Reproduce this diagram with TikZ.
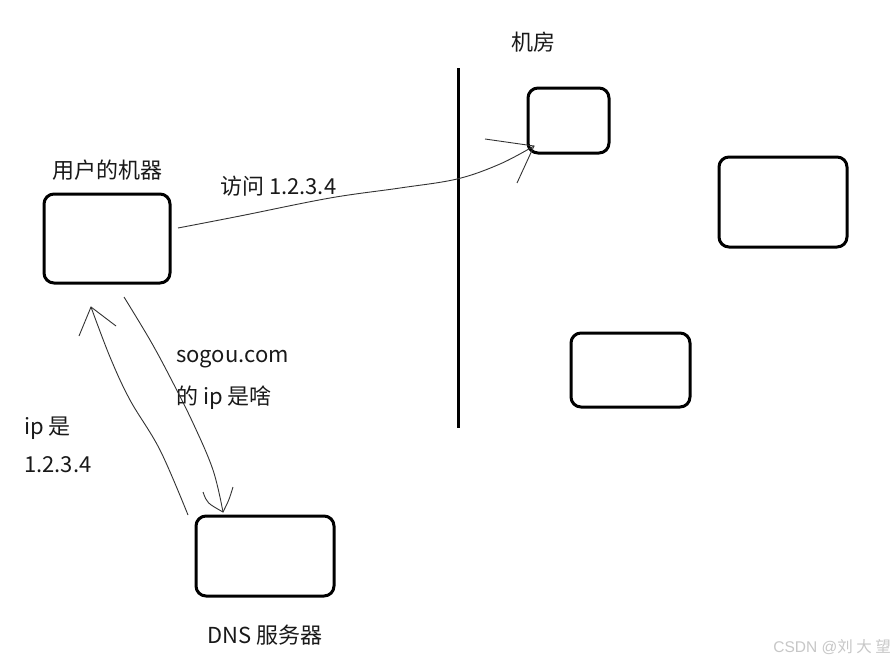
\documentclass[tikz,border=0pt]{standalone}
\usepackage{fontspec}
\setmainfont{Noto Sans CJK SC}
\newfontfamily\wmfont{Liberation Sans}
\begin{document}
\begin{tikzpicture}[x=1pt,y=-1pt,
  box/.style={draw=black,line width=3pt,rounded corners=10pt,inner sep=0pt},
  hand/.style={draw=black!80,line width=0.9pt},
  lbl/.style={font=\fontsize{22}{26}\selectfont,inner sep=0pt,anchor=west,text=black!90}]
\useasboundingbox (0,0) rectangle (896,661);
\fill[white] (0,0) rectangle (896,661);
% boxes
\node[box,minimum width=126pt,minimum height=89pt] (user) at (107,238.5) {};
\node[box,minimum width=138pt,minimum height=80pt] (dns) at (265,556) {};
\node[box,minimum width=81pt,minimum height=65pt] (r1) at (568.5,120.5) {};
\node[box,minimum width=128pt,minimum height=90pt] (r2) at (783,202) {};
\node[box,minimum width=119pt,minimum height=74pt] (r3) at (630.5,370) {};
% wall
\coordinate (wt) at (458,68);
\coordinate (wb) at (458,428);
\draw[line width=3pt] (wt) -- (wb);
% labels
\node[lbl] (tjf) at (511,42) {机房};
\node[lbl] (tuser) at (52,170) {用户的机器};
\node[lbl] (tvisit) at (220,186) {访问 1.2.3.4};
\node[lbl] (tq1) at (176,359) {sogou.com};
\node[lbl] (tq2) at (176,398) {的 ip 是啥};
\node[lbl] (ta1) at (24,428) {ip 是};
\node[lbl] (ta2) at (24,465) {1.2.3.4};
\node[lbl] (tdns) at (207,635) {DNS 服务器};
\node[font=\wmfont\fontsize{15.5}{18}\selectfont,text=black!22,anchor=east,inner sep=0pt] (wm) at (891,647) {CSDN @\fontspec{Noto Sans CJK SC}刘 大 望};
% arrow 1: user -> room
\coordinate (a1s) at (178,228);
\coordinate (a1t) at (534,146);
\draw[hand] plot[smooth,tension=0.6] coordinates {(a1s) (240,216) (330,198) (400,188) (457,179) (500,164) (a1t)};
\draw[hand] (485,139) -- (a1t) -- (517,183);
% arrow 2: dns -> user (answer)
\coordinate (a2s) at (188,515);
\coordinate (a2t) at (91,307);
\draw[hand] plot[smooth,tension=0.6] coordinates {(a2s) (160,450) (130,400) (110,357) (a2t)};
\draw[hand] (79,336) -- (a2t) -- (116,326);
% arrow 3: user -> dns (query)
\coordinate (a3s) at (124,297);
\coordinate (a3t) at (223,512);
\draw[hand] plot[smooth,tension=0.6] coordinates {(a3s) (150,340) (170,377) (193,423) (213,470) (a3t)};
\draw[hand] (203,492) .. controls (207,503) .. (a3t) .. controls (229,500) .. (233,487);
\end{tikzpicture}
\end{document}
